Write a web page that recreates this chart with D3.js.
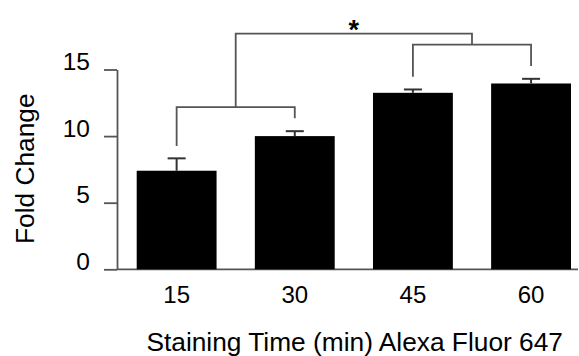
<!DOCTYPE html>
<meta charset="utf-8">
<script src="https://d3js.org/d3.v7.min.js"></script>
<style>
  body { margin: 0; background: #fff; }
  text { font-family: "Liberation Sans", Arial, sans-serif; fill: #000; }
</style>
<svg id="chart" width="579" height="356"></svg>
<script>

// data
var times = ["15", "30", "45", "60"];
var foldChange = [7.4, 10.0, 13.25, 13.95];
var sem = [0.93, 0.37, 0.25, 0.35];
var yTicks = [0, 5, 10, 15];

// significance brackets, in y units
var pairs = [
  {a: "15", b: "30", top: 12.18, legA: 9.26, legB: 11.34},
  {a: "45", b: "60", top: 16.86, legA: 14.46, legB: 15.26}
];
var overTop = 17.69;
var starLabel = "*";

var svg = d3.select("#chart");
var lineCol = "#555";

var x = d3.scaleBand()
  .domain(times)
  .range([136.7, 571])
  .paddingInner(0.324)
  .paddingOuter(0);

var y = d3.scaleLinear()
  .domain([0, 15])
  .range([269.3, 69.5]);

var mid = function(c) { return x(c) + x.bandwidth() / 2; };

// Y axis
var yAxis = svg.append("g")
  .attr("transform", "translate(117,0)")
  .call(d3.axisLeft(y).tickValues(yTicks).tickSizeInner(13).tickSizeOuter(0).tickPadding(14));
yAxis.selectAll("path, line").attr("stroke", lineCol).attr("stroke-width", 1.8);
yAxis.selectAll("text").attr("font-size", 24.5).attr("dy", "0em").attr("fill", "#000");

// baseline
svg.append("line")
  .attr("x1", 117).attr("x2", 578)
  .attr("y1", y(0)).attr("y2", y(0))
  .attr("stroke", lineCol).attr("stroke-width", 1.8);

// X axis labels
var xAxis = svg.append("g")
  .attr("transform", "translate(0," + y(0) + ")")
  .call(d3.axisBottom(x).tickSize(0).tickPadding(16.5));
xAxis.select(".domain").remove();
xAxis.selectAll("text").attr("font-size", 24).attr("fill", "#000");

// bars
svg.selectAll("rect.bar")
  .data(times)
  .enter()
  .append("rect")
    .attr("class", "bar")
    .attr("x", function(d) { return x(d); })
    .attr("y", function(d, i) { return y(foldChange[i]); })
    .attr("width", x.bandwidth())
    .attr("height", function(d, i) { return y(0) - y(foldChange[i]); })
    .attr("fill", "#000");

// error bars
var eb = svg.selectAll("g.err")
  .data(times)
  .enter()
  .append("g")
    .attr("class", "err");
eb.append("line")
  .attr("x1", mid).attr("x2", mid)
  .attr("y1", function(d, i) { return y(foldChange[i]); })
  .attr("y2", function(d, i) { return y(foldChange[i] + sem[i]); })
  .attr("stroke", "#333").attr("stroke-width", 2);
eb.append("line")
  .attr("x1", function(d) { return mid(d) - 9; })
  .attr("x2", function(d) { return mid(d) + 9; })
  .attr("y1", function(d, i) { return y(foldChange[i] + sem[i]); })
  .attr("y2", function(d, i) { return y(foldChange[i] + sem[i]); })
  .attr("stroke", "#333").attr("stroke-width", 2);

// brackets
var br = svg.append("g")
  .attr("fill", "none")
  .attr("stroke", lineCol)
  .attr("stroke-width", 1.8);

pairs.forEach(function(p) {
  var xa = mid(p.a), xb = mid(p.b);
  br.append("path")
    .attr("d", "M" + xa + "," + y(p.legA) + "V" + y(p.top) + "H" + xb + "V" + y(p.legB));
});

var c1 = (mid(pairs[0].a) + mid(pairs[0].b)) / 2;
var c2 = (mid(pairs[1].a) + mid(pairs[1].b)) / 2;
br.append("path")
  .attr("d", "M" + c1 + "," + y(pairs[0].top) + "V" + y(overTop) + "H" + c2 + "V" + y(pairs[1].top));

svg.append("text")
  .attr("x", (c1 + c2) / 2)
  .attr("y", y(overTop) + 5)
  .attr("text-anchor", "middle")
  .attr("font-size", 27)
  .attr("font-weight", "bold")
  .text(starLabel);

// axis titles
svg.append("text")
  .attr("x", 354.7)
  .attr("y", 350.5)
  .attr("text-anchor", "middle")
  .attr("font-size", 26.3)
  .text("Staining Time (min) Alexa Fluor 647");

svg.append("text")
  .attr("transform", "translate(33.5,168.7) rotate(-90)")
  .attr("text-anchor", "middle")
  .attr("font-size", 26.3)
  .text("Fold Change");

</script>
